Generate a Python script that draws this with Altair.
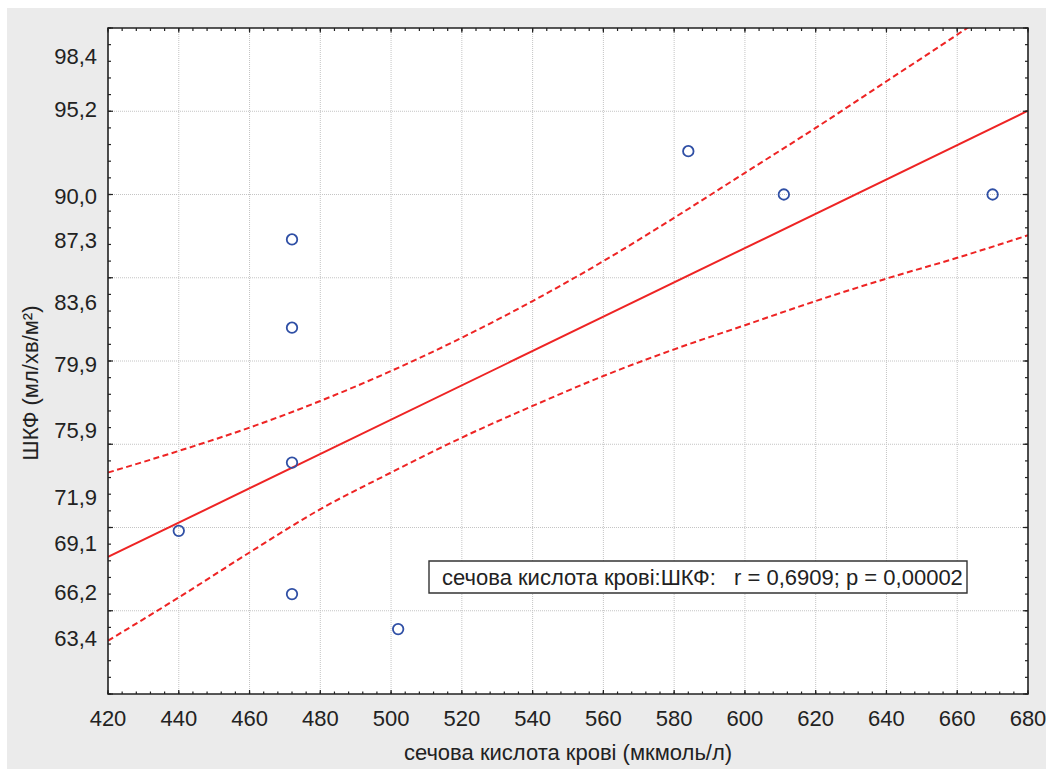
import altair as alt
import pandas as pd

# ---- data ----
uric_acid = [440, 472, 472, 472, 472, 502, 584, 611, 670]
gfr = [69.8, 87.3, 82.0, 73.9, 66.0, 63.9, 92.6, 90.0, 90.0]

fit_x = [420, 680]
fit_y = [68.23, 95.03]

band_x = [420, 440, 460, 480, 500, 520, 540, 560, 580, 600, 620, 640, 660, 680]
band_upper = [73.3, 74.6, 76.0, 77.6, 79.4, 81.4, 83.6, 86.0, 88.6, 91.3, 94.0, 96.8, 99.6, 102.5]
band_lower = [63.2, 65.8, 68.5, 71.1, 73.3, 75.4, 77.3, 79.1, 80.7, 82.15, 83.6, 84.95, 86.2, 87.55]

x_tick_values = [420, 440, 460, 480, 500, 520, 540, 560, 580, 600, 620, 640, 660, 680]
y_label_values = [98.4, 95.2, 90.0, 87.3, 83.6, 79.9, 75.9, 71.9, 69.1, 66.2, 63.4]
x_grid_values = [440, 460, 480, 500, 520, 540, 560, 580, 600, 620, 640, 660]
y_grid_values = [65, 70, 75, 80, 85, 90, 95]
x_minor_values = list(range(420, 681, 4))
x_major_values = list(range(420, 681, 20))
y_minor_values = list(range(60, 101, 1))
y_major_values = list(range(60, 101, 5))

x_title = "сечова кислота крові (мкмоль/л)"
y_title = "ШКФ (мл/хв/м²)"
annotation = "сечова кислота крові:ШКФ:\u00a0\u00a0\u00a0r = 0,6909; p = 0,00002"

# ---- layout / style ----
W, H = 920, 666
FONT = "Liberation Sans"
RED = "#EE2424"
BLUE = "#2F4FA5"
INK = "#222222"

xs = alt.Scale(domain=[420, 680], nice=False, zero=False)
ys = alt.Scale(domain=[60, 100], nice=False, zero=False)

one = pd.DataFrame({"k": [0]})

strip_top = alt.Chart(one).mark_rect(color="white").encode(
    x=alt.value(-108), x2=alt.value(938), y=alt.value(-28), y2=alt.value(-20)
)
strip_left = alt.Chart(one).mark_rect(color="white").encode(
    x=alt.value(-108), x2=alt.value(-101), y=alt.value(-28), y2=alt.value(741)
)
plot_bg = alt.Chart(one).mark_rect(color="white").encode(
    x=alt.value(0), x2=alt.value(W), y=alt.value(0), y2=alt.value(H)
)

grid_style = dict(color="#C4C4C4", strokeWidth=1, strokeDash=[1, 1])
grid_v = alt.Chart(pd.DataFrame({"x": x_grid_values})).mark_rule(**grid_style).encode(
    x=alt.X("x:Q", scale=xs, axis=None), y=alt.value(0), y2=alt.value(H)
)
grid_h = alt.Chart(pd.DataFrame({"y": y_grid_values})).mark_rule(**grid_style).encode(
    y=alt.Y("y:Q", scale=ys, axis=None), x=alt.value(0), x2=alt.value(W)
)

band_df = pd.DataFrame({"x": band_x, "up": band_upper, "lo": band_lower})
band_up = alt.Chart(band_df).mark_line(
    color=RED, strokeWidth=2, strokeDash=[6, 3.5], clip=True, interpolate="monotone"
).encode(x=alt.X("x:Q", scale=xs, axis=None), y=alt.Y("up:Q", scale=ys, axis=None))
band_lo = alt.Chart(band_df).mark_line(
    color=RED, strokeWidth=2, strokeDash=[6, 3.5], clip=True, interpolate="monotone"
).encode(x=alt.X("x:Q", scale=xs, axis=None), y=alt.Y("lo:Q", scale=ys, axis=None))
fit = alt.Chart(pd.DataFrame({"x": fit_x, "y": fit_y})).mark_line(color=RED, strokeWidth=2, clip=True).encode(
    x=alt.X("x:Q", scale=xs, axis=None), y=alt.Y("y:Q", scale=ys, axis=None)
)

points = alt.Chart(pd.DataFrame({"x": uric_acid, "y": gfr})).mark_point(
    shape="circle", filled=False, size=110, strokeWidth=1.8, color=BLUE, opacity=1
).encode(
    x=alt.X("x:Q", scale=xs, axis=None),
    y=alt.Y("y:Q", scale=ys, axis=None),
)

# tick labels and titles as text
x_lab_df = pd.DataFrame({"x": x_tick_values, "lab": [str(v) for v in x_tick_values]})
y_lab_df = pd.DataFrame({"y": y_label_values,
                         "lab": [f"{v:.1f}".replace(".", ",") for v in y_label_values]})

x_labels = alt.Chart(x_lab_df).mark_text(
    align="center", baseline="top", font=FONT, fontSize=22, color=INK
).encode(x=alt.X("x:Q", scale=xs, axis=None), y=alt.value(H + 15), text="lab:N")

y_labels = alt.Chart(y_lab_df).mark_text(
    align="right", baseline="middle", font=FONT, fontSize=22, color=INK, dy=2
).encode(y=alt.Y("y:Q", scale=ys, axis=None), x=alt.value(-11), text="lab:N")

x_title_mark = alt.Chart(one).mark_text(
    align="center", baseline="alphabetic", font=FONT, fontSize=22, color=INK
).encode(x=alt.value(W / 2), y=alt.value(H + 66), text=alt.value(x_title))

y_title_mark = alt.Chart(one).mark_text(
    align="center", baseline="middle", font=FONT, fontSize=22, color=INK, angle=270
).encode(x=alt.value(-77), y=alt.value(355), text=alt.value(y_title))

tick_style = dict(color=INK, strokeWidth=1.2)
xmin_df = pd.DataFrame({"x": x_minor_values})
xmaj_df = pd.DataFrame({"x": x_major_values})
ymin_df = pd.DataFrame({"y": y_minor_values})
ymaj_df = pd.DataFrame({"y": y_major_values})

def xt(df, y0, y1):
    return alt.Chart(df).mark_rule(**tick_style).encode(
        x=alt.X("x:Q", scale=xs, axis=None), y=alt.value(y0), y2=alt.value(y1)
    )

def yt(df, x0, x1):
    return alt.Chart(df).mark_rule(**tick_style).encode(
        y=alt.Y("y:Q", scale=ys, axis=None), x=alt.value(x0), x2=alt.value(x1)
    )

ticks = [
    xt(xmin_df, H, H - 2.5), xt(xmaj_df, H, H - 4),
    xt(xmin_df, 0, 3), xt(xmaj_df, 0, 4.5),
    yt(ymin_df, 0, 3), yt(ymaj_df, 0, 5),
    yt(ymin_df, W, W - 3), yt(ymaj_df, W, W - 5),
]

frame = alt.Chart(one).mark_rect(fillOpacity=0, stroke=INK, strokeWidth=1.6).encode(
    x=alt.value(0), x2=alt.value(W), y=alt.value(0), y2=alt.value(H)
)

ann_box = alt.Chart(one).mark_rect(color="white", stroke="#333333", strokeWidth=1.4).encode(
    x=alt.value(321), x2=alt.value(859), y=alt.value(533), y2=alt.value(565)
)
ann_text = alt.Chart(one).mark_text(
    align="left", baseline="middle", font=FONT, fontSize=22, color=INK
).encode(x=alt.value(334), y=alt.value(550), text=alt.value(annotation))

chart = alt.layer(
    strip_top, strip_left, plot_bg, grid_v, grid_h, band_up, band_lo, fit, points,
    *ticks, frame, ann_box, ann_text, x_labels, y_labels, x_title_mark, y_title_mark
).properties(
    width=W, height=H,
    autosize=alt.AutoSizeParams(type="none"),
    padding={"left": 108, "top": 28, "right": 18, "bottom": 75},
    background="#EBEBEB",
).configure_view(stroke=None)

chart.save("out.html", embed_options={"renderer": "svg", "actions": False})
